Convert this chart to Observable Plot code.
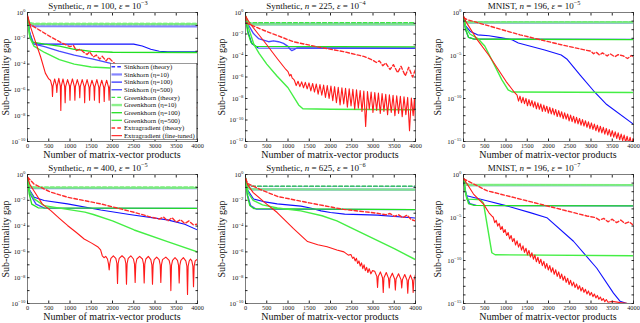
<!DOCTYPE html>
<html><head><meta charset="utf-8">
<script src="https://cdn.jsdelivr.net/npm/d3@7"></script>
<script src="https://cdn.jsdelivr.net/npm/@observablehq/plot@0.6"></script>
<style>
body{margin:0;background:#fff;}
#fig{position:relative;width:640px;height:323px;overflow:hidden;font-family:"Liberation Serif","Times New Roman",serif;color:#111;background:#fff;}
.panel{position:absolute;}
.title{position:absolute;transform:translate(-50%,-50%);font-size:9px;white-space:nowrap;line-height:1;}
.xlab{position:absolute;transform:translate(-50%,-50%);font-size:10px;white-space:nowrap;line-height:1;}
.ylab{position:absolute;transform:translate(-50%,-50%) rotate(-90deg);font-size:10px;white-space:nowrap;line-height:1;}
sup{font-size:0.7em;vertical-align:0.55em;line-height:0;}
</style></head><body><div id="fig"></div><script>
// ---------- labels ----------
const xTicks = [0,500,1000,1500,2000,2500,3000,3500,4000];
const datasetNames = ["Synthetic","Synthetic","MNIST","Synthetic","Synthetic","MNIST"];
const nValues = [100,225,196,400,625,196];
const epsExponents = [-3,-4,-5,-5,-6,-7];
const yMinExp = [-10,-12,-15,-10,-10,-15];
const yLabelStep = [2,2,5,2,2,5];
const seriesLabels = ["Sinkhorn (theory)","Sinkhorn (η=10)","Sinkhorn (η=100)","Sinkhorn (η=500)","Greenkhorn (theory)","Greenkhorn (η=10)","Greenkhorn (η=100)","Greenkhorn (η=500)","Extragradient (theory)","Extragradient (fine-tuned)"];
const xAxisLabel = "Number of matrix-vector products";
const yAxisLabel = "Sub-optimality gap";

// ---------- data: [matrix-vector products, log10(gap)] ----------
// Panel 1: Synthetic n=100 eps=1e-3
const p1SinkTheory = [[0,-0.45],[40,-0.85],[120,-0.93],[4000,-0.93]];
const p1Sink10 = [[0,-0.45],[40,-0.95],[150,-1.06],[4000,-1.07]];
const p1Sink100 = [[0,-0.4],[50,-1.5],[120,-2.3],[250,-2.45],[2500,-2.45],[2700,-2.6],[2900,-2.85],[3100,-3.0],[3300,-3.05],[4000,-3.05]];
const p1Sink500 = [[0,-0.4],[50,-1.6],[150,-2.45],[400,-2.65],[740,-3.0],[1100,-3.3],[1520,-3.6],[1960,-3.95],[3000,-4.5],[4000,-5.0]];
const p1GreenTheory = [[0,-0.45],[40,-0.8],[120,-0.85],[4000,-0.85]];
const p1Green10 = [[0,-0.45],[40,-0.85],[150,-0.9],[4000,-0.9]];
const p1Green100 = [[0,-0.4],[50,-1.8],[120,-2.3],[400,-2.45],[750,-2.6],[1100,-2.85],[1500,-3.02],[2000,-3.08],[4000,-3.1]];
const p1Green500 = [[0,-0.4],[60,-2.0],[150,-2.6],[400,-3.1],[750,-3.65],[1100,-4.0],[1500,-4.22],[1950,-4.3],[4000,-4.35]];
const p1EgTheory = [[0,-0.3],[50,-0.9],[300,-1.4],[550,-1.9],[800,-2.35],[1000,-2.65],[1080,-2.55],[1150,-2.95],[1240,-2.85],[1330,-3.1],[1400,-3.25],[1460,-3.05],[1550,-3.45],[1620,-3.3],[1700,-3.6],[1760,-3.4],[1850,-3.75],[1910,-3.5],[2000,-3.8],[2100,-4.1]];
const p1EgTuned = [[0,-0.2],[60,-1.0],[190,-2.3],[310,-3.45],[420,-4.7],[500,-5.15],[540,-5.25],[576,-5.7],[588,-6.5],[600,-5.7],[639,-5.15],[678,-5.65],[690,-6.2],[702,-5.65],[737,-5.1],[772,-5.7],[784,-7.6],[796,-5.7],[835,-5.15],[874,-5.75],[886,-7.0],[898,-5.75],[943,-5.2],[988,-5.7],[1000,-6.8],[1012,-5.7],[1057,-5.15],[1103,-5.75],[1115,-6.8],[1127,-5.75],[1172,-5.2],[1218,-5.75],[1230,-6.6],[1242,-5.75],[1287,-5.2],[1333,-5.75],[1345,-7.0],[1357,-5.75],[1402,-5.2],[1448,-5.8],[1460,-6.8],[1472,-5.8],[1517,-5.25],[1563,-5.75],[1575,-6.8],[1587,-5.75],[1632,-5.2],[1678,-5.8],[1690,-7.0],[1702,-5.8],[1747,-5.25],[1793,-5.8],[1805,-6.9],[1817,-5.8],[1862,-5.25],[1908,-5.8],[1920,-6.8],[1932,-5.8],[1980,-5.3],[2100,-5.6],[3000,-6.6],[4000,-7.4]];

// Panel 2: Synthetic n=225 eps=1e-4
const p2SinkTheory = [[0,-0.4],[40,-0.9],[120,-1.0],[4000,-1.0]];
const p2Sink10 = [[0,-0.4],[40,-1.0],[150,-1.1],[4000,-1.1]];
const p2Sink100 = [[0,-0.4],[60,-1.8],[150,-2.9],[300,-3.3],[4000,-3.35]];
const p2Sink500 = [[0,-0.4],[31,-0.9],[188,-1.96],[306,-2.42],[424,-2.57],[541,-2.72],[659,-2.63],[776,-2.72],[894,-2.87],[1000,-3.15],[1051,-3.42],[1090,-3.55],[1140,-3.45],[1208,-3.3],[1400,-3.3],[4000,-3.3]];
const p2GreenTheory = [[0,-0.4],[40,-0.9],[120,-0.95],[4000,-0.95]];
const p2Green10 = [[0,-0.4],[40,-1.0],[150,-1.1],[4000,-1.1]];
const p2Green100 = [[0,-0.4],[50,-1.8],[130,-2.8],[250,-3.15],[4000,-3.2]];
const p2Green500 = [[0,-0.3],[70,-1.4],[200,-3.0],[320,-3.8],[500,-4.8],[740,-5.9],[1000,-7.0],[1250,-8.6],[1350,-8.95],[2000,-9.0],[4000,-9.05]];
const p2EgTheory = [[0,-0.4],[31,-1.0],[424,-1.65],[1129,-2.72],[1700,-3.2],[2306,-3.64],[2800,-4.1],[3000,-4.45],[3080,-4.65],[3150,-4.5],[3230,-4.95],[3300,-4.7],[3400,-5.3],[3480,-4.85],[3580,-5.6],[3660,-5.0],[3760,-5.9],[3840,-5.1],[3930,-6.0],[4000,-5.3]];
const p2EgTuned = [[0,-0.3],[100,-1.0],[300,-2.0],[500,-3.0],[750,-4.3],[950,-5.3],[1000,-5.5],[1040,-5.9],[1070,-5.75],[1100,-6.1],[1130,-6.2],[1150,-6.3],[1193,-6.8],[1236,-6.4],[1279,-6.9],[1322,-6.45],[1365,-7.0],[1408,-6.5],[1451,-7.1],[1494,-6.55],[1537,-7.3],[1580,-6.6],[1623,-7.4],[1666,-6.65],[1709,-7.6],[1752,-6.7],[1795,-7.7],[1838,-6.75],[1881,-7.9],[1924,-6.8],[1967,-8.0],[2010,-6.85],[2053,-8.2],[2096,-6.9],[2139,-8.4],[2182,-6.95],[2225,-8.6],[2268,-7.0],[2311,-8.5],[2354,-7.05],[2397,-8.8],[2440,-7.1],[2483,-8.7],[2526,-7.15],[2569,-9.0],[2612,-7.2],[2655,-8.9],[2698,-7.25],[2741,-9.2],[2784,-7.3],[2827,-10.6],[2870,-7.35],[2913,-9.0],[2956,-7.4],[2999,-9.3],[3042,-7.45],[3085,-9.1],[3128,-7.5],[3171,-9.4],[3214,-7.55],[3257,-9.2],[3300,-7.6],[3343,-9.5],[3386,-7.65],[3429,-9.3],[3472,-7.7],[3515,-9.6],[3558,-7.75],[3601,-9.4],[3644,-7.8],[3687,-9.7],[3730,-7.85],[3773,-9.5],[3816,-7.9],[3859,-11.0],[3902,-7.95],[3945,-9.6],[3975,-8.0],[4000,-10.3]];

// Panel 3: MNIST n=196 eps=1e-5
const p3SinkTheory = [[0,-0.6],[40,-1.05],[120,-1.15],[4000,-1.15]];
const p3Sink10 = [[0,-0.6],[40,-1.1],[150,-1.17],[4000,-1.17]];
const p3Sink100 = [[0,-0.5],[40,-1.5],[160,-2.2],[330,-2.6],[600,-2.7],[900,-2.95],[1130,-3.15],[1290,-3.55],[1600,-3.95],[1910,-4.35],[2300,-4.95],[2430,-5.4],[2750,-7.3],[3060,-9.1],[3370,-10.7],[4000,-13.0]];
const p3Sink500 = [[0,-0.6],[50,-2.0],[120,-2.9],[250,-3.1],[4000,-3.12]];
const p3GreenTheory = [[0,-0.6],[40,-1.0],[120,-1.1],[4000,-1.1]];
const p3Green10 = [[0,-0.6],[40,-1.1],[150,-1.15],[4000,-1.15]];
const p3Green100 = [[0,-0.5],[50,-2.0],[120,-2.9],[250,-3.1],[4000,-3.15]];
const p3Green500 = [[0,-0.5],[50,-1.7],[150,-2.5],[330,-3.0],[500,-3.9],[900,-7.8],[1050,-9.0],[1150,-9.25],[4000,-9.3]];
const p3EgTheory = [[0,-0.6],[100,-0.85],[1330,-2.6],[2300,-3.75],[2900,-4.4],[3000,-4.5],[3060,-4.8],[3120,-4.6],[3200,-4.95],[3270,-4.7],[3380,-5.05],[3450,-4.8],[3560,-5.15],[3640,-4.9],[3760,-5.05],[3860,-5.35],[3950,-5.0],[4000,-5.15]];
const p3EgTuned = [[0,-0.4],[50,-1.0],[300,-3.0],[600,-5.0],[1000,-8.0],[1200,-9.3],[1260,-9.6],[1295,-10.3],[1330,-9.73],[1365,-10.5],[1400,-9.86],[1435,-10.6],[1470,-9.99],[1505,-10.85],[1540,-10.12],[1575,-10.85],[1610,-10.25],[1645,-11.0],[1680,-10.38],[1715,-11.2],[1750,-10.51],[1785,-11.25],[1820,-10.64],[1855,-11.5],[1890,-10.77],[1925,-11.5],[1960,-10.9],[1995,-11.7],[2030,-11.02],[2065,-11.8],[2100,-11.15],[2135,-11.9],[2170,-11.28],[2205,-12.1],[2240,-11.41],[2275,-12.15],[2310,-11.54],[2345,-12.35],[2380,-11.67],[2415,-12.4],[2450,-11.8],[2485,-12.6],[2520,-11.93],[2555,-12.7],[2590,-12.06],[2625,-12.85],[2660,-12.19],[2695,-12.95],[2730,-12.32],[2765,-13.1],[2800,-12.45],[2835,-13.2],[2870,-12.58],[2905,-13.35],[2940,-12.71],[2975,-13.5],[3010,-12.84],[3045,-13.6],[3080,-12.97],[3115,-13.75],[3150,-13.1],[3185,-13.9],[3220,-13.22],[3255,-14.0],[3290,-13.35],[3325,-14.15],[3360,-13.48],[3395,-14.25],[3430,-13.61],[3465,-14.4],[3500,-13.74],[3535,-14.5],[3570,-13.87],[3605,-14.65],[3640,-14.0],[3675,-14.8],[3710,-14.13],[3745,-14.9],[3780,-14.26],[3815,-15.1],[3850,-14.39],[3885,-15.2],[3920,-14.52],[3955,-15.3],[3990,-14.65],[4000,-14.8]];

// Panel 4: Synthetic n=400 eps=1e-5
const p4SinkTheory = [[0,-0.3],[40,-0.9],[120,-1.04],[4000,-1.04]];
const p4Sink10 = [[0,-0.3],[40,-1.0],[150,-1.06],[4000,-1.06]];
const p4Sink100 = [[0,-0.3],[50,-1.2],[157,-1.76],[392,-2.02],[941,-2.28],[1725,-2.75],[2400,-3.1],[3294,-3.52],[3700,-3.85],[4000,-4.3]];
const p4Sink500 = [[0,-0.3],[60,-1.5],[200,-2.3],[400,-2.6],[4000,-2.62]];
const p4GreenTheory = [[0,-0.3],[40,-0.85],[120,-0.98],[4000,-0.98]];
const p4Green10 = [[0,-0.3],[40,-0.95],[150,-1.02],[4000,-1.04]];
const p4Green100 = [[0,-0.3],[40,-1.5],[100,-2.3],[250,-2.58],[4000,-2.62]];
const p4Green500 = [[0,-0.3],[50,-1.3],[157,-1.89],[392,-2.41],[941,-2.7],[1350,-2.92],[1550,-3.1],[2000,-3.6],[2510,-4.3],[3294,-5.2],[4000,-6.0]];
const p4EgTheory = [[0,-0.2],[157,-0.75],[549,-1.37],[941,-1.76],[1725,-2.28],[2510,-2.93],[2900,-3.3],[3100,-3.45],[3200,-3.3],[3300,-3.6],[3400,-3.35],[3500,-3.7],[3600,-3.5],[3700,-3.8],[3800,-3.6],[3900,-3.9],[4000,-3.85]];
const p4EgTuned = [[0,-0.2],[60,-0.8],[157,-1.3],[350,-2.3],[549,-2.8],[750,-3.4],[941,-3.95],[1150,-4.5],[1333,-5.0],[1500,-5.3],[1650,-5.6],[1720,-5.85],[1760,-6.3],[1800,-6.45],[1840,-6.35],[1882,-6.55],[1907,-6.95],[1922,-7.4],[1937,-6.9],[1962,-6.5],[2020,-6.3],[2078,-6.5],[2103,-6.9],[2118,-8.45],[2133,-6.9],[2158,-6.5],[2224,-6.3],[2289,-6.5],[2314,-6.9],[2329,-8.5],[2344,-6.9],[2369,-6.5],[2431,-6.3],[2493,-6.55],[2518,-6.95],[2533,-8.37],[2548,-6.95],[2573,-6.55],[2639,-6.35],[2705,-6.55],[2730,-6.95],[2745,-8.4],[2760,-6.95],[2785,-6.55],[2843,-6.35],[2901,-6.6],[2926,-7.0],[2941,-8.5],[2956,-7.0],[2981,-6.6],[3039,-6.4],[3097,-6.6],[3122,-7.0],[3137,-8.37],[3152,-7.0],[3177,-6.6],[3255,-6.4],[3333,-6.65],[3358,-7.05],[3373,-9.0],[3388,-7.05],[3413,-6.65],[3471,-6.45],[3529,-6.65],[3554,-7.05],[3569,-8.4],[3584,-7.05],[3609,-6.65],[3667,-6.45],[3725,-6.7],[3750,-7.1],[3765,-9.3],[3780,-7.1],[3805,-6.7],[3835,-6.55],[3866,-6.7],[3891,-7.1],[3906,-8.7],[3921,-7.1],[3946,-6.7],[4000,-6.55]];

// Panel 5: Synthetic n=625 eps=1e-6
const p5SinkTheory = [[0,-0.3],[40,-0.8],[120,-0.92],[4000,-0.92]];
const p5Sink10 = [[0,-0.3],[40,-1.0],[150,-1.15],[4000,-1.17]];
const p5Sink100 = [[0,-0.3],[50,-1.2],[190,-1.9],[419,-2.1],[746,-2.28],[1302,-2.45],[1526,-2.6],[1778,-2.82],[2000,-2.95],[2333,-3.07],[3107,-3.15],[4000,-3.37]];
const p5Sink500 = [[0,-0.3],[50,-1.6],[120,-2.4],[250,-2.68],[4000,-2.72]];
const p5GreenTheory = [[0,-0.3],[40,-0.8],[120,-0.9],[4000,-0.9]];
const p5Green10 = [[0,-0.3],[40,-1.0],[150,-1.15],[4000,-1.17]];
const p5Green100 = [[0,-0.3],[40,-1.6],[100,-2.4],[200,-2.65],[4000,-2.72]];
const p5Green500 = [[0,-0.3],[60,-1.4],[180,-2.0],[400,-2.35],[750,-2.6],[1300,-2.82],[1800,-3.2],[2150,-3.6],[2500,-4.15],[3000,-4.95],[3500,-5.75],[4000,-6.6]];
const p5EgTheory = [[0,-0.3],[50,-0.7],[340,-1.15],[750,-1.7],[1500,-2.2],[2300,-2.7],[3100,-3.0],[3300,-3.12],[3400,-3.02],[3500,-3.25],[3600,-3.12],[3700,-3.35],[3800,-3.15],[3900,-3.5],[4000,-3.6]];
const p5EgTuned = [[0,-0.3],[50,-0.8],[182,-1.4],[498,-2.3],[746,-2.95],[1130,-4.2],[1460,-5.2],[1700,-5.45],[1921,-5.6],[2150,-5.85],[2316,-6.0],[2420,-6.25],[2480,-6.2],[2520,-6.5],[2550,-6.4],[2580,-6.7],[2610,-6.5],[2640,-6.9],[2670,-6.7],[2700,-7.1],[2730,-6.85],[2760,-7.3],[2790,-7.0],[2820,-7.45],[2850,-7.2],[2880,-7.6],[2910,-7.3],[2950,-7.7],[2990,-7.45],[3040,-7.5],[3090,-7.9],[3107,-8.76],[3124,-7.9],[3174,-7.55],[3224,-8.0],[3241,-9.15],[3258,-8.0],[3312,-7.6],[3366,-8.05],[3383,-8.8],[3400,-8.05],[3455,-7.65],[3509,-8.1],[3526,-8.96],[3543,-8.1],[3601,-7.7],[3659,-8.15],[3676,-8.8],[3693,-8.15],[3747,-7.75],[3801,-8.2],[3818,-9.2],[3835,-8.2],[3881,-7.8],[3928,-8.2],[3945,-9.15],[3962,-8.2],[4000,-7.75]];

// Panel 6: MNIST n=196 eps=1e-7
const p6SinkTheory = [[0,-0.5],[40,-1.1],[120,-1.22],[4000,-1.22]];
const p6Sink10 = [[0,-0.5],[40,-1.15],[150,-1.24],[4000,-1.24]];
const p6Sink100 = [[0,-0.5],[40,-1.8],[78,-2.47],[549,-3.06],[1020,-3.65],[1569,-4.43],[1961,-5.02],[2588,-7.76],[3137,-10.9],[3529,-13.8],[3686,-14.75],[3843,-15.0],[4000,-15.0]];
const p6Sink500 = [[0,-0.5],[50,-2.2],[150,-3.4],[300,-3.6],[4000,-3.65]];
const p6GreenTheory = [[0,-0.5],[40,-1.05],[120,-1.18],[4000,-1.18]];
const p6Green10 = [[0,-0.5],[40,-1.15],[150,-1.22],[4000,-1.24]];
const p6Green100 = [[0,-0.5],[40,-2.0],[120,-3.4],[250,-3.6],[4000,-3.65]];
const p6Green500 = [[0,-0.5],[78,-2.86],[353,-2.9],[420,-3.05],[471,-3.35],[667,-9.1],[745,-9.33],[4000,-9.45]];
const p6EgTheory = [[0,-0.5],[549,-1.88],[1333,-2.86],[2118,-3.84],[2902,-4.82],[3100,-5.0],[3200,-5.3],[3300,-5.1],[3400,-5.5],[3500,-5.2],[3600,-5.6],[3700,-5.3],[3800,-5.7],[3900,-5.5],[4000,-5.92]];
const p6EgTuned = [[0,-0.4],[60,-0.9],[235,-2.27],[471,-3.45],[600,-4.45],[665,-4.8],[700,-4.97],[735,-5.6],[770,-5.33],[805,-6.0],[840,-5.69],[875,-6.4],[910,-6.04],[945,-6.75],[980,-6.4],[1015,-7.1],[1050,-6.74],[1085,-7.5],[1120,-7.09],[1155,-7.8],[1190,-7.43],[1225,-8.2],[1260,-7.72],[1295,-8.45],[1330,-8.01],[1365,-8.8],[1400,-8.3],[1435,-9.05],[1470,-8.57],[1505,-9.35],[1540,-8.83],[1575,-9.6],[1610,-9.1],[1645,-9.85],[1680,-9.36],[1715,-10.15],[1750,-9.62],[1785,-10.35],[1820,-9.86],[1855,-10.6],[1890,-10.1],[1925,-10.9],[1960,-10.35],[1995,-11.1],[2030,-10.59],[2065,-11.35],[2100,-10.84],[2135,-11.6],[2170,-11.08],[2205,-11.85],[2240,-11.33],[2275,-12.1],[2310,-11.57],[2345,-12.3],[2380,-11.82],[2415,-12.55],[2450,-12.06],[2485,-12.8],[2520,-12.3],[2555,-12.95],[2590,-12.51],[2625,-13.15],[2660,-12.72],[2695,-13.35],[2730,-12.93],[2765,-13.55],[2800,-13.14],[2835,-13.7],[2870,-13.35],[2905,-13.9],[2940,-13.54],[2975,-14.05],[3010,-13.71],[3045,-14.2],[3080,-13.89],[3115,-14.35],[3150,-14.06],[3185,-14.5],[3220,-14.24],[3255,-14.65],[3290,-14.42],[3325,-14.8],[3360,-14.54],[3400,-14.85],[3500,-14.75],[3686,-14.9],[3850,-14.97],[4000,-15.0]];

// ---------- styles ----------
const seriesStyle = [
  {stroke:"#3535ff", w:1.4, dash:"3.6,2.2", op:1},
  {stroke:"#7070ff", w:2.2, dash:null, op:0.85},
  {stroke:"#1010ff", w:1.1, dash:null, op:1},
  {stroke:"#4848ff", w:1.3, dash:null, op:1},
  {stroke:"#3ee63e", w:1.4, dash:"3.6,2.2", op:1},
  {stroke:"#7fef7f", w:2.4, dash:null, op:0.9},
  {stroke:"#22e022", w:1.3, dash:null, op:1},
  {stroke:"#44ee44", w:1.4, dash:null, op:1},
  {stroke:"#ff2a2a", w:1.4, dash:"3.6,2.2", op:1},
  {stroke:"#ff1a1a", w:1.1, dash:null, op:1}
];

const panels = [
  [p1SinkTheory,p1Sink10,p1Sink100,p1Sink500,p1GreenTheory,p1Green10,p1Green100,p1Green500,p1EgTheory,p1EgTuned],
  [p2SinkTheory,p2Sink10,p2Sink100,p2Sink500,p2GreenTheory,p2Green10,p2Green100,p2Green500,p2EgTheory,p2EgTuned],
  [p3SinkTheory,p3Sink10,p3Sink100,p3Sink500,p3GreenTheory,p3Green10,p3Green100,p3Green500,p3EgTheory,p3EgTuned],
  [p4SinkTheory,p4Sink10,p4Sink100,p4Sink500,p4GreenTheory,p4Green10,p4Green100,p4Green500,p4EgTheory,p4EgTuned],
  [p5SinkTheory,p5Sink10,p5Sink100,p5Sink500,p5GreenTheory,p5Green10,p5Green100,p5Green500,p5EgTheory,p5EgTuned],
  [p6SinkTheory,p6Sink10,p6Sink100,p6Sink500,p6GreenTheory,p6Green10,p6Green100,p6Green500,p6EgTheory,p6EgTuned]
];

// ---------- layout ----------
const fig = document.getElementById("fig");
const frameLefts = [27,245,463];
const rowTops = [12,174];
const FW = 170, FH = 129;
const yLabOffset = [21,23,25];
const axisColor = "#262626";
const svgNS = "http://www.w3.org/2000/svg";

function supTicks(svg) {
  svg.querySelectorAll("text").forEach(t => {
    const s = t.textContent;
    if (s.startsWith("10^")) {
      const k = s.slice(3).replace("-", "\u2212");
      t.textContent = "10";
      const ts = document.createElementNS(svgNS, "tspan");
      ts.setAttribute("dy", "-0.45em");
      ts.setAttribute("font-size", "0.72em");
      ts.textContent = k;
      t.appendChild(ts);
    }
  });
}

panels.forEach((seriesList, i) => {
  const col = i % 3, row = Math.floor(i / 3);
  const fl = frameLefts[col], ft = rowTops[row];
  const yMin = yMinExp[i];
  const decades = d3.range(yMin, 1).map(k => 10 ** k);
  const labeled = d3.range(yMin, 1).filter(k => k % yLabelStep[i] === 0).map(k => 10 ** k);
  const marks = [];
  seriesList.forEach((data, j) => {
    const s = seriesStyle[j];
    marks.push(Plot.line(data, {x: d => d[0], y: d => 10 ** d[1], stroke: s.stroke, strokeWidth: s.w,
      strokeDasharray: s.dash || undefined, strokeOpacity: s.op, clip: true}));
  });
  marks.push(Plot.frame({stroke: axisColor, strokeWidth: 0.6}));
  marks.push(Plot.axisX(xTicks, {anchor: "bottom", tickSize: -2.5, tickFormat: () => "", label: null, stroke: axisColor}));
  marks.push(Plot.axisX(xTicks, {anchor: "top", tickSize: -2.5, tickFormat: () => "", label: null, stroke: axisColor}));
  marks.push(Plot.axisX(xTicks, {anchor: "bottom", tickSize: 0, tickPadding: 2.5, label: null, fontSize: 6.3, fill: "#222", tickFormat: d => String(d)}));
  marks.push(Plot.axisY(decades, {anchor: "left", tickSize: -2.5, tickFormat: () => "", label: null, stroke: axisColor}));
  marks.push(Plot.axisY(decades, {anchor: "right", tickSize: -2.5, tickFormat: () => "", label: null, stroke: axisColor}));
  marks.push(Plot.axisY(labeled, {anchor: "left", tickSize: 0, tickPadding: 2, label: null, fontSize: 6.7, fill: "#222",
    tickFormat: d => "10^" + Math.round(Math.log10(d))}));
  const svg = Plot.plot({
    width: FW + 27 + 6, height: FH + 2 + 22,
    marginLeft: 27, marginRight: 6, marginTop: 2, marginBottom: 22,
    x: {domain: [0, 4000]},
    y: {type: "log", domain: [10 ** yMin, 1]},
    style: {fontFamily: "Liberation Serif, Times New Roman, serif", fontSize: "6px", background: "transparent", overflow: "visible"},
    marks
  });
  supTicks(svg);
  const holder = document.createElement("div");
  holder.className = "panel";
  holder.style.left = (fl - 27) + "px";
  holder.style.top = (ft - 2) + "px";
  holder.appendChild(svg);
  fig.appendChild(holder);

  const title = document.createElement("div");
  title.className = "title";
  title.style.left = (fl + FW / 2 - 14) + "px";
  title.style.top = (ft - 6.5) + "px";
  title.innerHTML = `${datasetNames[i]}, <i>n</i> = ${nValues[i]}, <i>ε</i> = 10<sup>\u2212${-epsExponents[i]}</sup>`;
  fig.appendChild(title);

  const xl = document.createElement("div");
  xl.className = "xlab";
  xl.style.left = (fl + FW / 2) + "px";
  xl.style.top = (ft + FH + 14) + "px";
  xl.textContent = xAxisLabel;
  fig.appendChild(xl);

  const yl = document.createElement("div");
  yl.className = "ylab";
  yl.style.left = (fl - yLabOffset[col]) + "px";
  yl.style.top = (ft + FH / 2) + "px";
  yl.textContent = yAxisLabel;
  fig.appendChild(yl);
});

// ---------- legend (panel 1) ----------
const lg = d3.create("svg").attr("width", 87).attr("height", 77)
  .style("position", "absolute").style("left", "110px").style("top", "63px");
lg.append("rect").attr("x", 0.3).attr("y", 0.3).attr("width", 86.4).attr("height", 76.4)
  .attr("fill", "#fff").attr("stroke", "#555").attr("stroke-width", 0.6);
seriesLabels.forEach((name, j) => {
  const s = seriesStyle[j];
  const cy = 3.8 + j * 7.65;
  lg.append("line").attr("x1", 1.5).attr("x2", 12).attr("y1", cy).attr("y2", cy)
    .attr("stroke", s.stroke).attr("stroke-width", s.w).attr("stroke-opacity", s.op)
    .attr("stroke-dasharray", s.dash);
  lg.append("text").attr("x", 14).attr("y", cy).attr("dy", "0.34em")
    .attr("font-family", "Liberation Serif, Times New Roman, serif").attr("font-size", 6.75)
    .attr("fill", "#111").text(name);
});
fig.appendChild(lg.node());
</script></body></html>
